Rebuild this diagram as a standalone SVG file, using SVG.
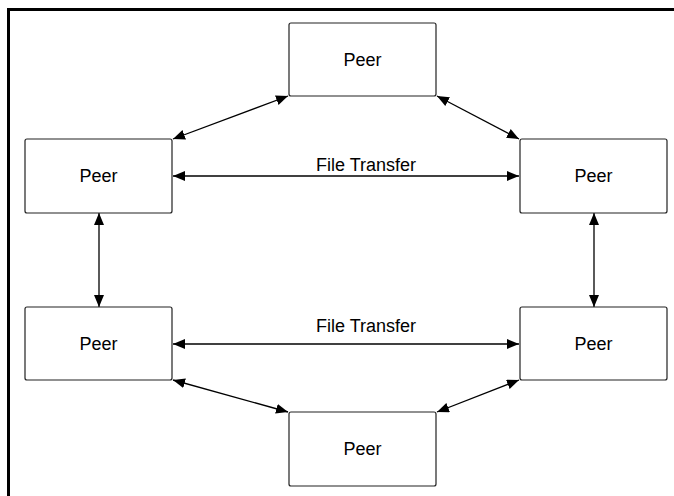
<svg xmlns="http://www.w3.org/2000/svg" width="674" height="496" viewBox="0 0 674 496">
<defs>
<marker id="ah" viewBox="0 0 12 10" refX="12" refY="5" markerWidth="12" markerHeight="10" markerUnits="userSpaceOnUse" orient="auto-start-reverse">
<path d="M0,0 L12,5 L0,10 z" fill="#000"/>
</marker>
<style>
.box{fill:#fff;stroke:#222;stroke-width:1.2}
.lbl{font-family:"Liberation Sans",Arial,sans-serif;font-size:18px;fill:#000;text-anchor:middle}
.edge{stroke:#000;stroke-width:1.3;fill:none;marker-start:url(#ah);marker-end:url(#ah)}
</style>
</defs>
<rect width="674" height="496" fill="#fff"/>
<path d="M8.5,496 V9.5 H674" fill="none" stroke="#000" stroke-width="3"/>
<g id="connectors">
<line class="edge" x1="173" y1="139" x2="288" y2="96"/>
<line class="edge" x1="437" y1="96" x2="519" y2="139"/>
<line class="edge" x1="173" y1="176" x2="519" y2="176"/>
<line class="edge" x1="99" y1="213" x2="99" y2="307"/>
<line class="edge" x1="594" y1="213" x2="594" y2="307"/>
<line class="edge" x1="173" y1="344" x2="519" y2="344"/>
<line class="edge" x1="173" y1="380" x2="288" y2="412"/>
<line class="edge" x1="519" y1="380" x2="437" y2="412"/>
<text class="lbl" x="366" y="171">File Transfer</text>
<text class="lbl" x="366" y="332">File Transfer</text>
</g>
<g id="peer-top"><rect class="box" x="289" y="23" width="147" height="73" rx="2"/><text class="lbl" x="362.5" y="66">Peer</text></g>
<g id="peer-left-upper"><rect class="box" x="25" y="139" width="147" height="74" rx="2"/><text class="lbl" x="98.5" y="182">Peer</text></g>
<g id="peer-right-upper"><rect class="box" x="520" y="139" width="147" height="74" rx="2"/><text class="lbl" x="593.5" y="182">Peer</text></g>
<g id="peer-left-lower"><rect class="box" x="25" y="307" width="147" height="73" rx="2"/><text class="lbl" x="98.5" y="350">Peer</text></g>
<g id="peer-right-lower"><rect class="box" x="520" y="307" width="147" height="73" rx="2"/><text class="lbl" x="593.5" y="350">Peer</text></g>
<g id="peer-bottom"><rect class="box" x="289" y="412" width="147" height="74" rx="2"/><text class="lbl" x="362.5" y="455">Peer</text></g>
</svg>
